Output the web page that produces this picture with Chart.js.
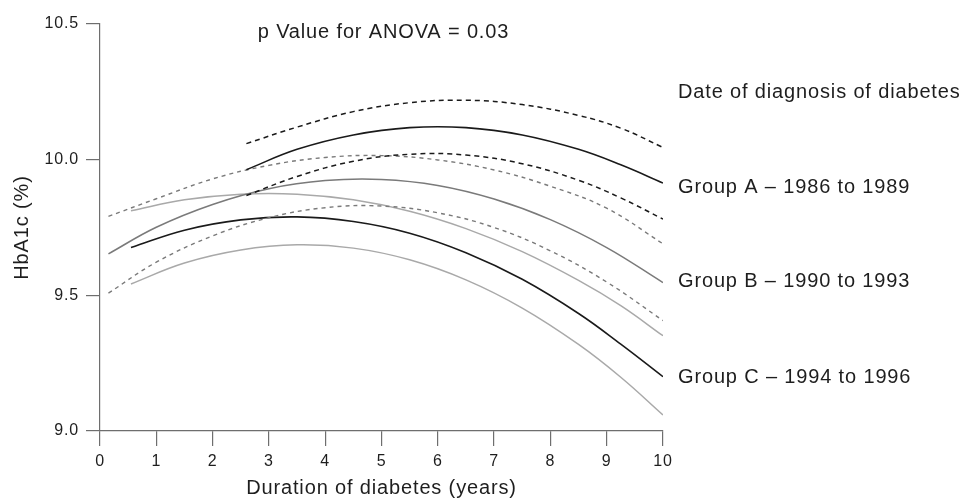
<!DOCTYPE html>
<html>
<head>
<meta charset="utf-8">
<script src="https://cdn.jsdelivr.net/npm/chart.js@4.4.1/dist/chart.umd.min.js"></script>
<style>
  html, body { margin: 0; padding: 0; background: #fff; }
  #c { display: block; }
</style>
</head>
<body>
<canvas id="c" width="962" height="498"></canvas>
<script>
// ---- Data ----
const xA = [2.6, 3.5, 4.5, 5.5, 6.5, 7.5, 8.5, 9.25, 10];
const groupAUpper = [10.059, 10.120, 10.177, 10.210, 10.219, 10.203, 10.163, 10.116, 10.045];
const groupAMean  = [9.963, 10.038, 10.091, 10.118, 10.118, 10.091, 10.038, 9.981, 9.914];
const groupALower = [9.868, 9.938, 9.994, 10.020, 10.017, 9.985, 9.924, 9.859, 9.781];

const xB = [0.15, 1, 2, 3, 4, 5, 6, 7, 8, 9, 10];
const groupBUpper = [9.791, 9.856, 9.929, 9.979, 10.008, 10.015, 9.999, 9.962, 9.902, 9.821, 9.690];
const groupBMean  = [9.653, 9.751, 9.835, 9.893, 9.923, 9.927, 9.905, 9.855, 9.779, 9.676, 9.547];
const groupBLower = [9.508, 9.622, 9.719, 9.786, 9.823, 9.829, 9.804, 9.750, 9.664, 9.549, 9.407];

const xC = [0.55, 1.5, 2.5, 3.5, 4.5, 5.5, 6.5, 7.5, 8.5, 9.25, 10];
const groupCUpper = [9.812, 9.852, 9.873, 9.873, 9.852, 9.810, 9.746, 9.661, 9.555, 9.462, 9.351];
const groupCMean  = [9.676, 9.740, 9.778, 9.789, 9.772, 9.729, 9.657, 9.559, 9.433, 9.320, 9.200];
const groupCLower = [9.542, 9.619, 9.667, 9.686, 9.674, 9.631, 9.557, 9.453, 9.319, 9.198, 9.059];

const xTicks = [0, 1, 2, 3, 4, 5, 6, 7, 8, 9, 10];
const yTicks = [9.0, 9.5, 10.0, 10.5];

const pValueText = 'p Value for ANOVA = 0.03';
const legendTitle = 'Date of diagnosis of diabetes';
const groupLabels = ['Group A \u2013 1986 to 1989', 'Group B \u2013 1990 to 1993', 'Group C \u2013 1994 to 1996'];
const xTitle = 'Duration of diabetes (years)';
const yTitle = 'HbA1c (%)';

// ---- Build datasets ----
const pts = (xs, ys) => xs.map((x, i) => ({ x: x, y: ys[i] }));
const BLACK = '#1a1a1a', MID = '#7a7a7a', LIGHT = '#a9a9a9';
function ds(xs, ys, color, width, dash) {
  return {
    data: pts(xs, ys), borderColor: color, borderWidth: width, borderDash: dash || [],
    pointRadius: 0, fill: false, tension: 0.4, borderCapStyle: 'butt'
  };
}
const datasets = [
  ds(xA, groupAUpper, BLACK, 1.5, [5, 4]),
  ds(xA, groupAMean, BLACK, 1.6),
  ds(xA, groupALower, BLACK, 1.5, [5, 4]),
  ds(xB, groupBUpper, MID, 1.4, [4, 4]),
  ds(xB, groupBMean, MID, 1.5),
  ds(xB, groupBLower, MID, 1.4, [4, 4]),
  ds(xC, groupCUpper, LIGHT, 1.5),
  ds(xC, groupCMean, BLACK, 1.6),
  ds(xC, groupCLower, LIGHT, 1.5)
];

const FONT = "'Liberation Sans', Arial, sans-serif";
const TEXT = '#1e1e1e';
const AXIS = '#6e6e6e';
const LS = '0.85px';

const textPlugin = {
  id: 'texts',
  beforeUpdate(chart) { chart.ctx.letterSpacing = LS; },
  beforeDraw(chart) { chart.ctx.letterSpacing = LS; },
  afterDraw(chart) {
    const ctx = chart.ctx;
    ctx.save();
    ctx.letterSpacing = LS;
    ctx.fillStyle = TEXT;
    ctx.font = '20px ' + FONT;
    ctx.textBaseline = 'alphabetic';
    ctx.textAlign = 'center';
    const xs = chart.scales.x;
    ctx.fillText(pValueText, (xs.left + xs.right) / 2 + 2, 37.5);
    ctx.textAlign = 'left';
    ctx.fillText(legendTitle, 678, 97.5);
    const ys = [193.3, 287.3, 382.6];
    groupLabels.forEach((t, i) => ctx.fillText(t, 678, ys[i]));
    ctx.restore();
  }
};

new Chart(document.getElementById('c'), {
  type: 'line',
  data: { datasets: datasets },
  plugins: [textPlugin],
  options: {
    responsive: false,
    animation: false,
    devicePixelRatio: 1,
    layout: { padding: { left: 0, right: 299, top: 24, bottom: 0 } },
    plugins: { legend: { display: false }, tooltip: { enabled: false } },
    scales: {
      x: {
        type: 'linear', min: 0, max: 10,
        afterBuildTicks: (s) => { s.ticks = xTicks.map(v => ({ value: v })); },
        afterFit: (s) => { s.height = 67; },
        border: { display: true, color: AXIS, width: 1.2 },
        grid: { drawOnChartArea: false, drawTicks: true, tickLength: 15, color: AXIS, lineWidth: 1.2 },
        ticks: { color: TEXT, font: { family: FONT, size: 16 }, padding: 6, maxRotation: 0,
                 callback: (v) => String(v) },
        title: { display: true, text: xTitle, color: TEXT,
                 font: { family: FONT, size: 20, lineHeight: 1 }, padding: { top: 0, bottom: 0 } }
      },
      y: {
        type: 'linear', min: 9, max: 10.5,
        afterBuildTicks: (s) => { s.ticks = yTicks.map(v => ({ value: v })); },
        afterFit: (s) => { s.width = 100; },
        border: { display: true, color: AXIS, width: 1.2 },
        grid: { drawOnChartArea: false, drawTicks: true, tickLength: 14, color: AXIS, lineWidth: 1.2 },
        ticks: { color: TEXT, font: { family: FONT, size: 16 }, padding: 7,
                 callback: (v) => Number(v).toFixed(1) },
        title: { display: true, text: yTitle, color: TEXT,
                 font: { family: FONT, size: 20, lineHeight: 1 }, padding: { top: 12, bottom: 0 } }
      }
    }
  }
});
</script>
</body>
</html>
